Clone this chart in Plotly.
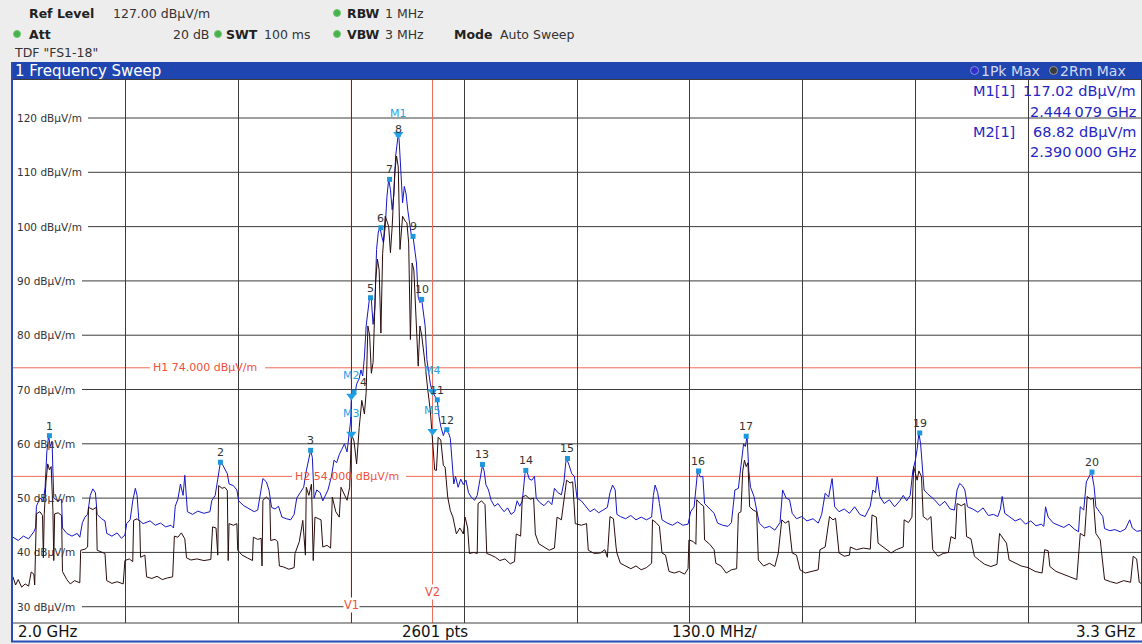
import plotly.graph_objects as go

# ---------------- data (frequency in MHz, level in dBuV/m) ----------------
pk_f = [2000, 2006, 2012, 2018, 2024, 2026, 2027, 2031, 2035, 2037, 2039, 2041, 2043, 2045, 2046, 2047,
        2052, 2056, 2057, 2062, 2068, 2074, 2077, 2080, 2083, 2086, 2089, 2092, 2095, 2097, 2102, 2106,
        2108, 2114, 2120, 2125, 2129, 2131, 2135, 2138, 2141, 2143, 2145, 2150, 2158, 2164, 2170, 2176,
        2182, 2185, 2187, 2190, 2193, 2196, 2198, 2200, 2201, 2207, 2213, 2220, 2227, 2229, 2233, 2236,
        2239, 2242, 2245, 2247, 2249, 2254, 2258, 2260, 2266, 2272, 2278, 2282, 2285, 2288, 2292, 2295,
        2298, 2302, 2306, 2310, 2315, 2320, 2324, 2327, 2331, 2335, 2338, 2341, 2343, 2345, 2347, 2350,
        2354, 2357, 2360, 2363, 2367, 2370, 2373, 2376, 2379, 2382, 2385, 2387, 2389, 2390, 2392, 2394,
        2396, 2399, 2401, 2403, 2405, 2407, 2409, 2411, 2413, 2415, 2417, 2419, 2421, 2423, 2425, 2427,
        2429, 2431, 2433, 2435, 2437, 2439, 2441, 2443, 2444, 2445, 2447, 2449, 2451, 2453, 2455, 2457,
        2459, 2461, 2463, 2465, 2467, 2469, 2471, 2473, 2475, 2477, 2479, 2481, 2483, 2485, 2487, 2489,
        2491, 2493, 2496, 2498, 2500, 2502, 2504, 2506, 2508, 2510, 2513, 2516, 2519, 2522, 2525, 2528,
        2532, 2535, 2538, 2541, 2543, 2545, 2548, 2551, 2555, 2559, 2562, 2566, 2570, 2574, 2578, 2581,
        2584, 2587, 2590, 2592, 2595, 2598, 2601, 2603, 2607, 2612, 2617, 2621, 2624, 2628, 2632, 2635,
        2637, 2638, 2641, 2644, 2647, 2650, 2655, 2660, 2665, 2670, 2675, 2680, 2685, 2688, 2691, 2694,
        2696, 2700, 2706, 2712, 2718, 2724, 2730, 2736, 2738, 2740, 2743, 2745, 2748, 2754, 2760, 2766,
        2772, 2778, 2781, 2785, 2788, 2789, 2792, 2795, 2797, 2803, 2808, 2812, 2818, 2824, 2828, 2832,
        2836, 2839, 2842, 2844, 2846, 2848, 2850, 2854, 2857, 2860, 2866, 2872, 2878, 2884, 2887, 2891,
        2895, 2898, 2903, 2909, 2915, 2922, 2928, 2932, 2936, 2940, 2944, 2947, 2952, 2958, 2964, 2970,
        2976, 2982, 2988, 2991, 2994, 2996, 2999, 3004, 3010, 3016, 3022, 3026, 3030, 3034, 3037, 3040,
        3042, 3044, 3046, 3048, 3050, 3054, 3058, 3062, 3068, 3074, 3080, 3085, 3088, 3091, 3094, 3097,
        3100, 3106, 3112, 3118, 3124, 3130, 3135, 3138, 3140, 3143, 3149, 3155, 3161, 3167, 3173, 3179,
        3185, 3188, 3190, 3193, 3199, 3205, 3211, 3217, 3223, 3228, 3230, 3234, 3237, 3240, 3243, 3246,
        3248, 3252, 3256, 3258, 3264, 3270, 3276, 3282, 3287, 3290, 3295, 3300]
pk_db = [42.8, 42.2, 43.0, 42.5, 43.8, 44.5, 48.5, 50.0, 49.5, 52.0, 58.5, 61.5, 59.5, 60.5, 55.0, 50.0,
         49.5, 49.8, 44.5, 43.5, 43.0, 43.5, 42.8, 45.5, 46.5, 47.0, 50.5, 51.7, 51.0, 47.0, 46.2, 45.8,
         43.5, 43.0, 43.6, 42.6, 43.2, 45.3, 46.0, 49.5, 51.8, 50.5, 46.0, 45.3, 45.8, 45.0, 45.4, 44.7,
         45.0, 44.5, 48.5, 49.8, 52.6, 50.5, 54.2, 49.0, 47.5, 47.0, 47.6, 47.2, 47.5, 49.5, 50.5, 53.5,
         56.6, 56.0, 55.2, 54.5, 52.6, 52.3, 51.5, 49.5, 48.6, 48.0, 47.5, 47.8, 50.5, 53.6, 53.0, 51.5,
         48.3, 48.0, 48.5, 46.5, 46.2, 46.0, 47.0, 50.0, 51.0, 52.0, 55.0, 57.5, 58.8, 57.5, 50.0, 51.5,
         51.0, 49.5, 50.5, 51.5, 54.0, 57.0, 56.5, 58.0, 59.0, 60.0, 58.5, 61.0, 64.0, 68.8, 70.0, 69.0,
         71.0, 72.0, 73.6, 72.5, 76.0, 81.7, 84.7, 87.0, 86.5, 82.0, 85.0, 95.8, 99.0, 99.8, 98.2, 97.0,
         100.0, 105.6, 108.7, 106.8, 103.1, 106.0, 113.0, 116.6, 117.0, 116.0, 109.0, 104.4, 107.4, 106.0, 103.0, 100.7,
         98.5, 98.2, 95.8, 93.3, 87.0, 86.0, 86.6, 84.0, 81.7, 75.5, 73.0, 71.0, 69.7, 69.2, 68.5, 68.0,
         65.0, 63.2, 61.5, 62.6, 62.3, 62.0, 61.0, 56.0, 52.6, 54.0, 52.0, 53.5, 52.5, 53.3, 51.0, 50.2,
         49.6, 50.5, 53.5, 56.0, 55.0, 52.5, 51.5, 49.6, 48.5, 49.0, 48.3, 47.5, 48.2, 47.0, 47.5, 49.5,
         48.5, 49.5, 54.5, 55.1, 53.5, 53.3, 54.0, 50.0, 49.2, 48.6, 49.5, 48.8, 51.8, 51.0, 50.6, 53.0,
         56.5, 57.3, 56.0, 54.5, 54.0, 50.0, 49.5, 48.5, 47.5, 48.0, 47.3, 47.8, 48.3, 51.0, 52.4, 51.5,
         47.0, 46.6, 46.2, 46.8, 46.0, 46.5, 46.0, 46.5, 50.5, 52.4, 51.0, 49.0, 46.0, 45.4, 45.0, 45.6,
         45.0, 45.2, 47.5, 48.4, 53.5, 55.0, 53.9, 54.0, 49.0, 48.0, 47.2, 45.4, 45.0, 44.8, 45.5, 51.5,
         51.8, 56.0, 60.0, 59.5, 61.4, 55.0, 52.0, 50.3, 48.0, 45.4, 44.5, 44.8, 44.1, 45.5, 51.5, 50.0,
         49.7, 47.2, 46.2, 46.6, 45.8, 46.2, 45.4, 47.0, 50.9, 50.2, 53.6, 48.4, 47.5, 48.0, 47.2, 48.4,
         47.0, 46.6, 48.5, 51.5, 51.0, 53.9, 50.3, 49.0, 49.7, 48.4, 49.5, 50.5, 49.5, 50.5, 55.0, 57.0,
         59.0, 62.0, 60.0, 56.0, 51.5, 50.8, 50.3, 49.7, 48.6, 49.4, 48.0, 47.8, 51.5, 52.7, 52.3, 51.5,
         48.4, 48.0, 47.4, 48.2, 46.8, 47.0, 46.6, 48.0, 50.3, 47.2, 46.5, 45.8, 46.2, 45.2, 45.8, 44.9,
         45.2, 44.8, 48.4, 46.5, 45.4, 45.0, 44.6, 45.2, 44.3, 43.8, 48.4, 47.8, 53.0, 53.9, 54.8, 52.1,
         48.4, 47.5, 46.6, 44.4, 44.0, 44.2, 43.8, 44.3, 46.0, 44.5, 43.9, 44.0]

rm_f = [2000, 2003, 2006, 2010, 2014, 2018, 2021, 2024, 2025, 2027, 2031, 2034, 2035, 2036, 2038, 2040,
        2042, 2044, 2046, 2047, 2048, 2052, 2056, 2057, 2062, 2066, 2071, 2077, 2078, 2083, 2086, 2087,
        2092, 2096, 2097, 2102, 2106, 2108, 2114, 2120, 2127, 2129, 2134, 2138, 2139, 2143, 2146, 2147,
        2152, 2154, 2160, 2166, 2172, 2178, 2184, 2186, 2190, 2194, 2198, 2200, 2205, 2212, 2220, 2228,
        2230, 2234, 2236, 2237, 2241, 2244, 2247, 2248, 2249, 2254, 2258, 2259, 2264, 2270, 2276, 2277,
        2282, 2286, 2287, 2288, 2292, 2296, 2297, 2302, 2305, 2307, 2312, 2318, 2324, 2325, 2330, 2334,
        2337, 2338, 2341, 2344, 2346, 2348, 2352, 2355, 2357, 2362, 2366, 2368, 2372, 2376, 2378, 2382,
        2385, 2388, 2390, 2393, 2396, 2399, 2402, 2405, 2407, 2409, 2411, 2413, 2415, 2418, 2420, 2422,
        2424, 2426, 2429, 2431, 2433, 2435, 2437, 2440, 2442, 2444, 2446, 2449, 2452, 2454, 2456, 2458,
        2460, 2462, 2464, 2467, 2469, 2471, 2474, 2476, 2478, 2481, 2483, 2485, 2486, 2488, 2490, 2493,
        2496, 2498, 2501, 2504, 2507, 2511, 2515, 2519, 2521, 2524, 2526, 2531, 2535, 2536, 2540, 2544,
        2546, 2551, 2556, 2561, 2567, 2573, 2578, 2580, 2585, 2587, 2591, 2596, 2600, 2602, 2606, 2612,
        2618, 2624, 2627, 2632, 2636, 2638, 2642, 2645, 2648, 2655, 2661, 2663, 2670, 2677, 2682, 2685,
        2688, 2692, 2695, 2696, 2700, 2706, 2712, 2718, 2724, 2730, 2736, 2737, 2741, 2745, 2748, 2752,
        2756, 2762, 2768, 2774, 2778, 2779, 2784, 2787, 2788, 2792, 2796, 2797, 2803, 2808, 2810, 2816,
        2822, 2828, 2834, 2836, 2839, 2841, 2843, 2845, 2847, 2849, 2853, 2857, 2859, 2865, 2872, 2878,
        2882, 2886, 2890, 2894, 2898, 2903, 2907, 2913, 2920, 2928, 2930, 2936, 2941, 2945, 2948, 2952,
        2958, 2964, 2965, 2972, 2980, 2988, 2990, 2995, 2997, 3005, 3012, 3018, 3026, 3027, 3032, 3036,
        3038, 3042, 3044, 3047, 3049, 3054, 3058, 3060, 3066, 3072, 3078, 3081, 3086, 3088, 3093, 3097,
        3099, 3104, 3108, 3114, 3120, 3127, 3134, 3137, 3141, 3145, 3148, 3155, 3162, 3170, 3178, 3186,
        3189, 3193, 3195, 3202, 3210, 3218, 3226, 3230, 3235, 3238, 3242, 3245, 3248, 3253, 3258, 3265,
        3272, 3280, 3288, 3291, 3295, 3298, 3300]
rm_db = [35.5, 34.0, 35.0, 33.6, 34.2, 33.8, 36.4, 36.0, 34.0, 47.1, 47.5, 46.8, 39.0, 47.0, 53.0, 56.3,
         55.2, 55.8, 47.7, 38.5, 47.1, 47.3, 46.8, 36.5, 35.0, 34.2, 34.8, 34.4, 40.4, 40.6, 41.0, 48.3,
         47.9, 48.3, 40.4, 40.0, 39.8, 34.8, 34.3, 34.6, 34.2, 38.5, 38.8, 38.3, 45.9, 46.2, 45.7, 39.1,
         39.5, 35.5, 35.2, 35.6, 35.0, 35.3, 35.5, 43.0, 42.8, 43.6, 42.5, 39.0, 38.6, 38.8, 38.5, 38.7,
         44.7, 44.5, 39.5, 52.3, 51.8, 52.0, 51.4, 38.5, 45.3, 45.0, 45.3, 40.4, 39.5, 39.0, 38.5, 42.8,
         42.4, 42.6, 37.5, 49.6, 50.2, 49.6, 42.2, 42.4, 42.0, 37.5, 37.3, 36.9, 37.2, 39.8, 42.0, 45.9,
         39.5, 52.0, 50.5, 52.6, 38.5, 46.5, 46.2, 46.0, 41.0, 41.3, 40.8, 50.2, 47.5, 46.5, 52.0, 50.5,
         49.6, 52.0, 61.8, 60.5, 56.3, 63.0, 68.0, 65.5, 69.4, 81.7, 80.0, 73.0, 75.0, 90.0, 94.0, 92.0,
         80.4, 95.0, 101.9, 101.0, 100.0, 95.2, 100.0, 110.0, 113.0, 111.0, 95.8, 101.9, 101.0, 100.7, 97.0, 79.2,
         93.3, 92.0, 85.0, 74.3, 81.7, 80.0, 76.0, 72.5, 70.0, 66.0, 62.3, 58.0, 55.2, 55.1, 61.2, 60.7,
         56.0, 55.7, 50.2, 47.7, 46.5, 43.4, 44.5, 43.4, 46.5, 44.5, 39.8, 40.0, 39.8, 49.0, 49.5, 48.8,
         39.8, 39.5, 39.1, 38.5, 38.8, 37.9, 38.3, 43.4, 43.0, 50.2, 50.5, 49.8, 50.0, 43.4, 41.6, 41.0,
         40.4, 40.8, 46.5, 46.0, 51.0, 53.3, 52.8, 53.0, 45.3, 45.0, 45.3, 40.4, 39.8, 39.9, 40.5, 39.1,
         46.6, 46.2, 41.0, 39.9, 38.0, 37.5, 37.0, 37.5, 36.8, 37.2, 38.0, 46.0, 45.5, 44.8, 39.9, 39.5,
         36.5, 36.2, 36.5, 36.0, 37.0, 42.3, 42.0, 41.5, 49.7, 49.0, 48.5, 42.3, 41.5, 40.5, 38.0, 37.5,
         36.2, 36.8, 37.0, 47.2, 47.5, 55.0, 57.0, 55.8, 56.5, 48.4, 47.8, 47.5, 38.6, 37.5, 38.0, 37.4,
         39.9, 46.0, 45.4, 45.8, 39.9, 39.5, 36.8, 36.2, 36.5, 36.8, 40.5, 41.0, 46.6, 46.0, 46.3, 39.9,
         39.3, 39.5, 41.0, 40.5, 40.8, 40.6, 46.9, 46.5, 41.7, 40.8, 39.9, 40.5, 41.0, 46.0, 45.5, 46.5,
         55.8, 53.3, 55.0, 54.0, 46.6, 46.0, 46.6, 40.5, 39.3, 39.8, 40.0, 42.9, 42.5, 49.0, 48.6, 49.0,
         42.9, 42.5, 39.3, 38.5, 37.8, 37.4, 37.8, 43.5, 42.5, 41.7, 38.6, 38.0, 37.5, 37.2, 36.5, 36.2,
         40.5, 40.3, 37.4, 36.5, 36.0, 35.5, 35.0, 43.5, 43.0, 50.3, 49.8, 50.0, 43.5, 42.3, 35.0, 34.6,
         34.3, 34.8, 34.5, 39.3, 38.8, 34.5, 34.3]

num_lbl = ["1", "2", "3", "4", "5", "6", "7", "8", "9", "10", "11", "12", "13", "14", "15", "16", "17", "19", "20"]
num_f = [2042, 2239, 2343, 2393, 2412, 2424, 2434, 2444, 2461, 2471, 2489, 2500, 2541, 2591, 2639, 2790, 2845, 3045, 3243.5]
num_db = [61.5, 56.6, 58.8, 69.5, 86.9, 99.8, 108.7, 117.0, 98.2, 86.6, 68.1, 62.6, 56.2, 55.1, 57.3, 55.0, 61.4, 62.0, 54.8]

m_lbl = ["M1", "M2", "M3", "M4", "M5"]
m_f = [2444.079, 2390.0, 2390.0, 2483.5, 2483.5]
m_db = [117.02, 68.82, 61.8, 69.7, 62.3]

y_ticks = [120, 110, 100, 90, 80, 70, 60, 50, 40, 30]
h_lines = [("H1 74.000 dBµV/m", 74.0), ("H2 54.000 dBµV/m", 54.0)]
v_lines = [("V1", 2390.0), ("V2", 2483.5)]

# ---------------- figure geometry helpers ----------------
W, H = 1142, 644
FONT = "DejaVu Sans"


def px(x):
    return x / W


def py(y):
    return 1 - y / H


fig = go.Figure()
fig.add_trace(go.Scatter(x=pk_f, y=pk_db, mode="lines", line=dict(color="#1616c8", width=1), hoverinfo="skip"))
fig.add_trace(go.Scatter(x=rm_f, y=rm_db, mode="lines", line=dict(color="#2a0c0c", width=1), hoverinfo="skip"))
fig.add_trace(go.Scatter(x=num_f, y=num_db, mode="markers",
                         marker=dict(symbol="square", size=5, color="#1e96dc"), hoverinfo="skip"))
fig.add_trace(go.Scatter(x=m_f, y=m_db, mode="markers",
                         marker=dict(symbol="triangle-down", size=9, color="#22a0e6"), hoverinfo="skip"))

shapes = []
ann = []


def text(x, y, t, size=12.5, color="#222", anchor="left", xref="paper", yref="paper", **kw):
    ann.append(dict(x=x, y=y, xref=xref, yref=yref, text=t, showarrow=False, xanchor=anchor,
                    yanchor="middle", font=dict(family=FONT, size=size, color=color), **kw))


GRID = "#3c3c3c"

# horizontal grid lines (start after the level labels)
for v in y_ticks:
    x0 = 88 if v >= 100 else 82
    shapes.append(dict(type="line", xref="paper", yref="y", x0=px(x0), x1=px(1141), y0=v, y1=v,
                       line=dict(color=GRID, width=1), layer="below"))
    text(px(15), v, f"{v} dBµV/m", size=10.5, color="#333", yref="y")

# limit lines
h_label_px = {74.0: (150, 265, 151), 54.0: (292, 406, 293)}
for lbl, v in h_lines:
    a, b, tx = h_label_px[v]
    shapes.append(dict(type="line", xref="paper", yref="y", x0=px(13), x1=px(a), y0=v, y1=v,
                       line=dict(color="#f26a5a", width=1), layer="below"))
    shapes.append(dict(type="line", xref="paper", yref="y", x0=px(b), x1=px(1141), y0=v, y1=v,
                       line=dict(color="#f26a5a", width=1), layer="below"))
    text(px(tx), v, lbl, size=11, color="#f0503c", yref="y")

v_label_y = {"V1": 605, "V2": 592}
for lbl, f in v_lines:
    shapes.append(dict(type="line", xref="x", yref="y", x0=f, x1=f, y0=27, y1=127,
                       line=dict(color="#f26a5a", width=1), layer="below"))
    text(f, py(v_label_y[lbl]), lbl, size=11.5, color="#f0503c", anchor="center", xref="x",
         bgcolor="white", borderpad=0)

# marker labels
num_xshift = {"4": 9}
num_yshift = {"8": -4}
for lbl, f, d in zip(num_lbl, num_f, num_db):
    ann.append(dict(x=f, y=d, xref="x", yref="y", text=lbl, showarrow=False, xanchor="center",
                    yanchor="bottom", yshift=num_yshift.get(lbl, 1), xshift=num_xshift.get(lbl, 0),
                    font=dict(family=FONT, size=11, color="#333")))
for lbl, f, d in zip(m_lbl, m_f, m_db):
    ann.append(dict(x=f, y=d, xref="x", yref="y", text=lbl, showarrow=False, xanchor="center",
                    yanchor="bottom", yshift=12, font=dict(family=FONT, size=11, color="#2aa2e6")))

# marker table
tc = "#2626c4"
text(px(971), py(91.5), "M1[1]", size=14.5, color=tc)
text(px(1138), py(91.5), "117.02 dBµV/m", size=14.5, color=tc, anchor="right")
text(px(1138), py(112), "2.444\u2009079 GHz", size=14.5, color=tc, anchor="right")
text(px(971), py(132), "M2[1]", size=14.5, color=tc)
text(px(1138), py(132), "68.82 dBµV/m", size=14.5, color=tc, anchor="right")
text(px(1138), py(152), "2.390\u2009000 GHz", size=14.5, color=tc, anchor="right")

# title bar
shapes.append(dict(type="rect", xref="paper", yref="paper", x0=px(11), x1=1, y0=py(79), y1=py(62),
                   fillcolor="#1f45b0", line=dict(width=0), layer="above"))
text(px(13), py(70.5), "1 Frequency Sweep", size=15, color="white")
for cx, fill, edge in [(974.5, "#3030c8", "#8890e0"), (1053.5, "#3a3a3a", "#9a9a9a")]:
    shapes.append(dict(type="circle", xref="paper", yref="paper", x0=px(cx - 4), x1=px(cx + 4),
                       y0=py(74.5), y1=py(66.5), fillcolor=fill, line=dict(color=edge, width=1), layer="above"))
text(px(979), py(70.5), "1Pk Max", size=14, color="#d4d8ee")
text(px(1058), py(70.5), "2Rm Max", size=14, color="#d4d8ee")

# bottom scale bar
shapes.append(dict(type="rect", xref="paper", yref="paper", x0=px(13), x1=px(1142), y0=py(641), y1=py(623),
                   fillcolor="white", line=dict(width=0), layer="above"))
shapes.append(dict(type="line", xref="paper", yref="paper", x0=px(13), x1=px(1142), y0=py(623), y1=py(623),
                   line=dict(color="#404040", width=1), layer="above"))
shapes.append(dict(type="line", xref="paper", yref="paper", x0=px(11), x1=1, y0=py(641.5), y1=py(641.5),
                   line=dict(color="#2a4cb4", width=2), layer="above"))
shapes.append(dict(type="line", xref="paper", yref="paper", x0=px(12), x1=px(12), y0=py(642), y1=py(62),
                   line=dict(color="#2a4cb4", width=2), layer="above"))
text(px(16), py(632), "2.0 GHz", size=15, color="#111")
text(px(435), py(632), "2601 pts", size=15, color="#111", anchor="center")
text(px(670), py(632), "130.0 MHz/", size=15, color="#111")
text(px(1138), py(632), "3.3 GHz", size=15, color="#111", anchor="right")

# header settings
dot = "#48b04c"
for cx, cy in [(337, 13), (17, 34), (218, 34), (337, 34)]:
    shapes.append(dict(type="circle", xref="paper", yref="paper", x0=px(cx - 3.5), x1=px(cx + 3.5),
                       y0=py(cy + 3.5), y1=py(cy - 3.5), fillcolor=dot, line=dict(color="#6cc870", width=1)))
text(px(27), py(13), "<b>Ref Level</b>")
text(px(212), py(13), "127.00 dBµV/m", anchor="right", color="#333")
text(px(345), py(13), "<b>RBW</b>")
text(px(383), py(13), "1 MHz", color="#333")
text(px(27), py(34), "<b>Att</b>")
text(px(211), py(34), "20 dB", anchor="right", color="#333")
text(px(224), py(34), "<b>SWT</b>")
text(px(262), py(34), "100 ms", color="#333")
text(px(345), py(34), "<b>VBW</b>")
text(px(383), py(34), "3 MHz", color="#333")
text(px(452), py(34), "<b>Mode</b>")
text(px(498), py(34), "Auto Sweep", color="#333")
text(px(12), py(52), 'TDF "FS1-18"', color="#333")

fig.update_layout(
    width=W, height=H, margin=dict(l=0, r=0, t=0, b=0),
    paper_bgcolor="#ededed", plot_bgcolor="white", showlegend=False,
    shapes=shapes, annotations=ann,
    xaxis=dict(domain=[px(13), px(1141)], range=[2000, 3300], tick0=2000, dtick=130,
               showgrid=True, gridcolor=GRID, gridwidth=1, zeroline=False,
               showticklabels=False, ticks="", showline=True, mirror=True, linecolor=GRID),
    yaxis=dict(domain=[py(623), py(80)], range=[27, 127], showgrid=False, zeroline=False,
               showticklabels=False, ticks="", showline=True, mirror=True, linecolor=GRID),
)

fig.write_html("out.html", config={"displayModeBar": False},
               post_script="document.body.style.margin='0';document.body.style.overflow='hidden';")
